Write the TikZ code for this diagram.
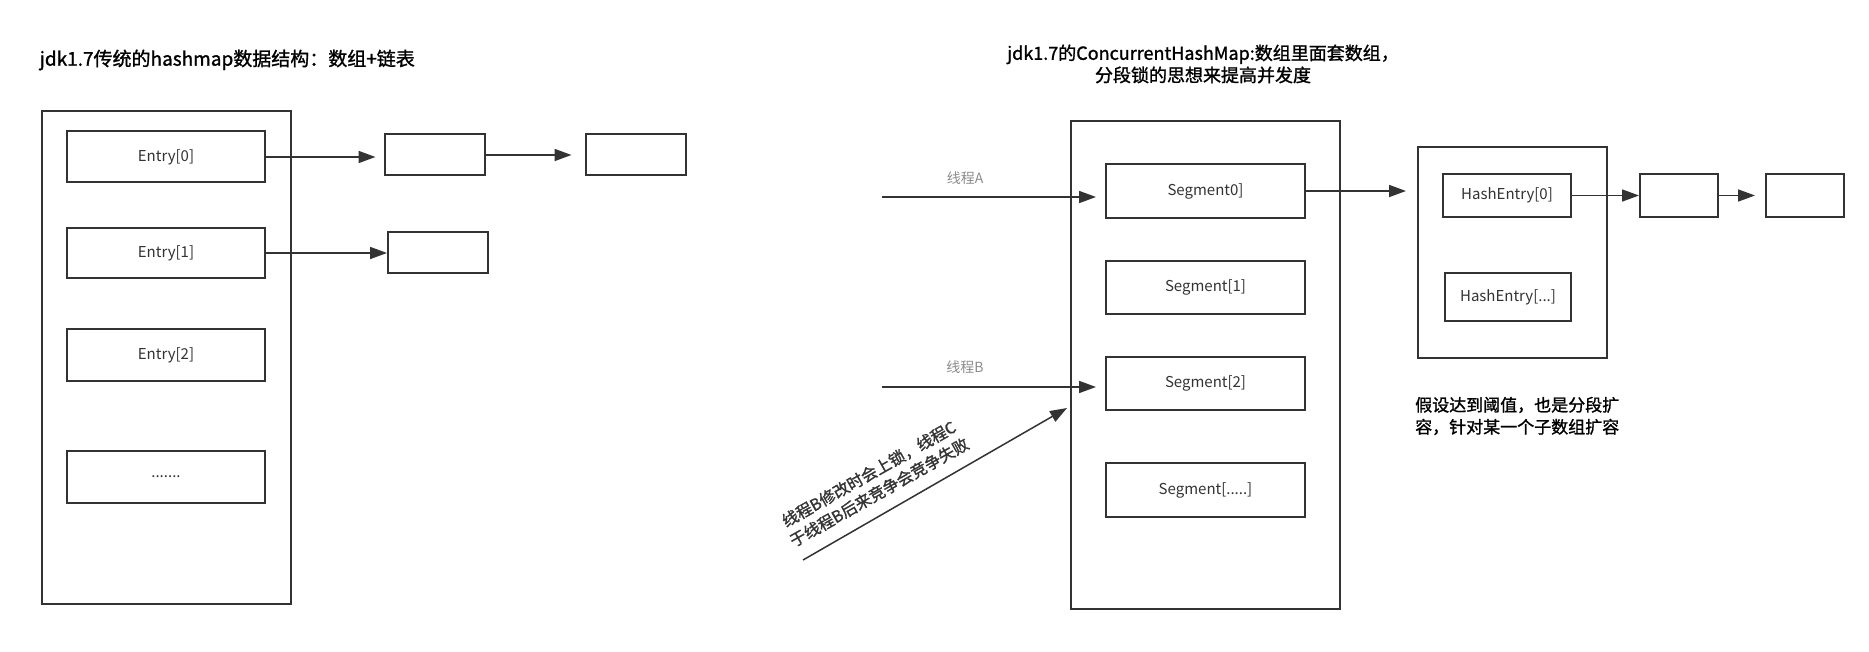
\documentclass[tikz,border=0pt]{standalone}
\usepackage{fontspec}
\setmainfont{Noto Sans CJK SC}
\newfontfamily\semib[FakeBold=1.3]{Noto Sans CJK SC}
\usetikzlibrary{arrows.meta}
\definecolor{ln}{HTML}{333333}
\definecolor{tx}{HTML}{333333}
\definecolor{lbl}{HTML}{8C8C8C}
\begin{document}
\begin{tikzpicture}[x=1pt,y=-1pt,
  box/.style={draw=ln, line width=2pt, rectangle, inner sep=0pt, text=tx, font=\fontsize{15}{18}\selectfont},
  conn/.style={draw=ln, line width=1.7pt, -{Triangle[length=17pt,width=12pt]}},
  ttl/.style={text=black, font=\semib\fontsize{18}{22}\selectfont, inner sep=0pt},
  thr/.style={text=lbl, font=\fontsize{14}{17}\selectfont, inner sep=0pt}]
\fill[white] (0,0) rectangle (1869,652);
\path[use as bounding box] (0,0) rectangle (1869,652);

% ---------- left: classic HashMap ----------
\node[ttl, anchor=west, font=\semib\fontsize{19}{23}\selectfont] (t1) at (39.5,60) {jdk1.7传统的hashmap数据结构：数组+链表};
\node[box, minimum width=249pt, minimum height=493pt] (L) at (166.5,357.5) {};
\node[box, minimum width=198pt, minimum height=51pt] (e0) at (166,157) {Entry[0]};
\node[box, minimum width=198pt, minimum height=50pt] (e1) at (166,253) {Entry[1]};
\node[box, minimum width=198pt, minimum height=52pt] (e2) at (166,355) {Entry[2]};
\node[box, minimum width=198pt, minimum height=52pt] (e3) at (166,477) {.......};
\node[box, minimum width=100pt, minimum height=41pt] (n1) at (434.5,155) {};
\node[box, minimum width=100pt, minimum height=41pt] (n2) at (635.5,155) {};
\node[box, minimum width=100pt, minimum height=41pt] (n3) at (438,252.5) {};
\draw[conn, shorten >=8pt] (e0.east) -- (e0.east -| n1.west);
\draw[conn, shorten >=13pt] (n1.east) -- (n2.west);
\draw[conn] (e1.east) -- (e1.east -| n3.west);

% ---------- middle: ConcurrentHashMap ----------
\node[ttl, align=center] (t2) at (1203,64) {jdk1.7的ConcurrentHashMap:数组里面套数组，\\分段锁的思想来提高并发度};
\node[box, minimum width=269pt, minimum height=488pt] (M) at (1205,365) {};
\node[box, minimum width=199pt, minimum height=54pt] (s0) at (1205.5,191) {Segment0]};
\node[box, minimum width=199pt, minimum height=53pt] (s1) at (1205.5,287.5) {Segment[1]};
\node[box, minimum width=199pt, minimum height=53pt] (s2) at (1205.5,383.5) {Segment[2]};
\node[box, minimum width=199pt, minimum height=54pt] (s3) at (1205.5,490) {Segment[.....]};

\coordinate (tA) at (882,197);
\coordinate (tB) at (882,387);
\draw[conn, shorten >=9pt] (tA) -- (tA -| s0.west);
\draw[conn, shorten >=9pt] (tB) -- (tB -| s2.west);
\node[thr] (la) at (965,178) {线程A};
\node[thr] (lb) at (965,367) {线程B};

\coordinate (tC0) at (803,560);
\coordinate (tC1) at (1067,408);
\draw[conn, line width=1.5pt] (tC0) -- (tC1);
\node[text=tx, font=\semib\fontsize{16}{21}\selectfont, align=center, rotate=29.5, inner sep=0pt] (lc) at (874,483) {线程B修改时会上锁，线程C\\于线程B后来竞争会竞争失败};

% ---------- right: segment content ----------
\node[box, minimum width=189pt, minimum height=211pt] (H) at (1512.5,252.5) {};
\node[box, minimum width=128pt, minimum height=43pt] (h0) at (1507,195.5) {HashEntry[0]};
\node[box, minimum width=126pt, minimum height=48pt] (h1) at (1508,297) {HashEntry[...]};
\node[box, minimum width=78pt, minimum height=43pt] (bA) at (1679,195.5) {};
\node[box, minimum width=78pt, minimum height=43pt] (bB) at (1805,195.5) {};
\draw[conn, shorten >=11pt] (s0.east) -- (s0.east -| H.west);
\draw[conn] (h0.east) -- (bA.west);
\draw[conn, shorten >=10pt] (bA.east) -- (bB.west);

\node[text=black, font=\semib\fontsize{17}{22}\selectfont, align=left, anchor=west, inner sep=0pt] (note) at (1415,416) {假设达到阈值，也是分段扩\\容，针对某一个子数组扩容};
\end{tikzpicture}
\end{document}
